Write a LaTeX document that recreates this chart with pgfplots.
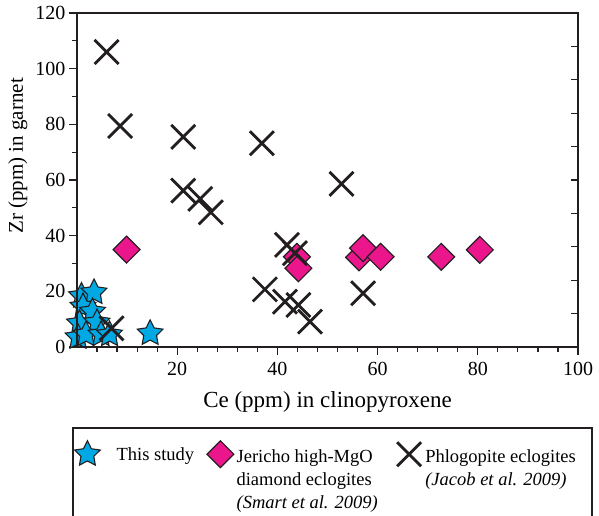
\documentclass[border=0pt]{standalone}
\usepackage{fontspec}
\setmainfont{Liberation Serif}
\usepackage{pgfplots}
\pgfplotsset{compat=1.18}

\definecolor{starblue}{RGB}{0,168,228}
\definecolor{dmag}{RGB}{236,22,140}
\definecolor{xblack}{RGB}{35,31,32}

\pgfdeclareplotmark{fstar}{%
  \pgfpathmoveto{\pgfpointpolar{90}{\pgfplotmarksize}}%
  \pgfpathlineto{\pgfpointpolar{126}{0.5\pgfplotmarksize}}%
  \pgfpathlineto{\pgfpointpolar{162}{\pgfplotmarksize}}%
  \pgfpathlineto{\pgfpointpolar{198}{0.5\pgfplotmarksize}}%
  \pgfpathlineto{\pgfpointpolar{234}{\pgfplotmarksize}}%
  \pgfpathlineto{\pgfpointpolar{270}{0.5\pgfplotmarksize}}%
  \pgfpathlineto{\pgfpointpolar{306}{\pgfplotmarksize}}%
  \pgfpathlineto{\pgfpointpolar{342}{0.5\pgfplotmarksize}}%
  \pgfpathlineto{\pgfpointpolar{18}{\pgfplotmarksize}}%
  \pgfpathlineto{\pgfpointpolar{54}{0.5\pgfplotmarksize}}%
  \pgfpathclose
  \pgfusepathqfillstroke
}

\begin{document}
\begin{tikzpicture}[font=\fontsize{20}{24}\selectfont]
\begin{axis}[
  scale only axis, width=501pt, height=334pt,
  xmin=0, xmax=100, ymin=0, ymax=120,
  /pgf/number format/assume math mode=true,
  xtick={20,40,60,80,100},
  minor xtick={4,8,12,16,24,28,32,36,44,48,52,56,64,68,72,76,84,88,92,96},
  ytick={0,20,40,60,80,100,120},
  minor ytick={10,30,50,70,90,110},
  xtick pos=bottom, ytick pos=left,
  tick align=outside,
  major tick length=8pt, minor tick length=5pt,
  xticklabel style={yshift=-4pt},
  axis line style={line width=1.4pt, color=xblack},
  every tick/.style={line width=1.2pt, xblack},
  clip=false,
  xlabel={Ce (ppm) in clinopyroxene},
  ylabel={Zr (ppm) in garnet},
  every axis x label/.style={at={(axis description cs:0.5,-0.165)}, anchor=center, font=\fontsize{23}{27}\selectfont},
  every axis y label/.style={at={(axis description cs:-0.118,0.572)}, rotate=90, anchor=center, font=\fontsize{21}{25}\selectfont},
  legend columns=3,
  legend cell align=left,
  legend style={at={(axis description cs:0,0)}, anchor=north west, xshift=-4pt, yshift=-93.5pt,
    draw=none, fill=none, inner sep=0pt,
    font=\fontsize{18.5}{23}\selectfont,
    nodes={inner sep=2pt},
    /tikz/every even column/.append style={column sep=10pt}},
  legend image code/.code={\path (0pt,0pt) (28pt,0pt); \draw[#1] plot coordinates {(14pt,4pt)};},
]
\addplot[only marks, mark=fstar, mark size=13.5pt, mark options={fill=starblue, draw=xblack, line width=1.1pt}]
coordinates {(0.9,18.3)(3.4,19.6)(1.2,14.5)(3.1,12.7)(0.5,8.5)(4.0,8.8)(0.2,3.5)(1.8,4.5)(4.8,4.5)(6.5,4.5)(14.6,4.9)};
\addlegendentry{\raisebox{6pt}{\hspace*{13pt}This study}}
\addplot[only marks, mark=square*, mark size=9.5pt, mark options={rotate=45, fill=dmag, draw=xblack, line width=1.2pt}]
coordinates {(9.9,35)(43.9,32.4)(44.2,28.3)(56.3,32.2)(57.1,35.5)(60.6,32.4)(72.7,32.4)(80.4,34.9)};
\addlegendentry{\raisebox{6pt}{\begin{tabular}[t]{@{}l@{}}Jericho high-MgO\\diamond eclogites\\\textit{(Smart et al. 2009)}\end{tabular}}\hspace*{5pt}}
\addplot[only marks, mark=x, mark size=17pt, mark options={draw=xblack, line width=2.8pt}]
coordinates {(5.9,106)(8.6,79.4)(21.2,75.5)(36.9,73.2)(52.8,58.6)(21.2,56.2)(24.6,53.2)(26.7,48.4)(41.9,36.7)(43.5,33.7)(37.5,20.7)(41.5,16.3)(44.2,15.1)(46.5,9.1)(57.1,19.3)(6.9,6.7)};
\addlegendentry{\raisebox{6pt}{\begin{tabular}[t]{@{}l@{}}Phlogopite eclogites\\\textit{(Jacob et al. 2009)}\end{tabular}}}
\end{axis}
\begin{axis}[
  scale only axis, width=501pt, height=334pt,
  xmin=0, xmax=100, ymin=0, ymax=120,
  xtick=\empty,
  ytick={12,24,36,48,60,72,84,96,108},
  yticklabels={},
  ytick pos=right,
  tick align=inside,
  major tick length=7pt,
  axis line style={line width=1.4pt, color=xblack},
  every tick/.style={line width=1.2pt, xblack},
]
\end{axis}
\draw[line width=1.3pt, xblack] (-4pt,-81pt) rectangle (515pt,-200pt);
\pgfresetboundingbox
\useasboundingbox (-77pt,-169pt) rectangle (522pt,347pt);
\end{tikzpicture}
\end{document}
